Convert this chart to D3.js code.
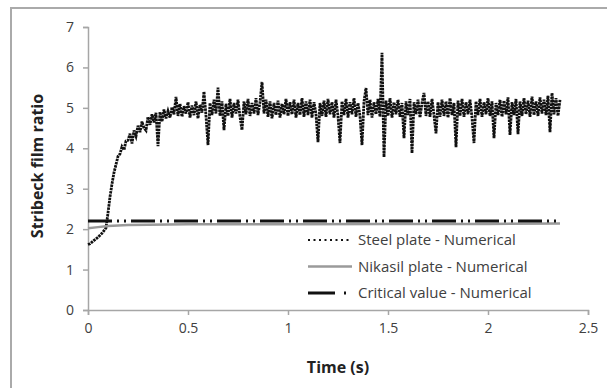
<!DOCTYPE html>
<html>
<head>
<meta charset="utf-8">
<script src="https://cdn.jsdelivr.net/npm/d3@7"></script>
<style>
  body { margin: 0; background: #fff; }
  svg { display: block; }
</style>
</head>
<body>
<div id="chart"></div>
<script>
// Stribeck film ratio vs time
const xTicks = [0, 0.5, 1, 1.5, 2, 2.5];
const yTicks = [0, 1, 2, 3, 4, 5, 6, 7];

// steel plate, sampled every 0.01 s from 0 to 2.36 s
const steelStep = 0.01;
const steelValues = [
  1.62, 1.64, 1.68, 1.72, 1.76, 1.80, 1.85, 1.90, 1.96, 2.03,
  2.40, 2.80, 3.12, 3.40, 3.60, 3.80, 3.86, 4.04, 3.96, 4.18,
  4.20, 4.36, 4.12, 4.44, 4.30, 4.56, 4.40, 4.66, 4.50, 4.44,
  4.78, 4.58, 4.84, 4.64, 4.88, 4.05, 4.90, 4.66, 4.96, 4.74,
  4.92, 4.76, 5.02, 4.84, 5.27, 4.80, 5.10, 4.78, 5.04, 4.86,
  5.14, 4.76, 5.06, 4.82, 5.16, 4.74, 5.08, 4.88, 5.40, 4.80,
  4.08, 5.12, 4.82, 5.20, 4.86, 5.50, 4.80, 5.16, 4.45, 5.10,
  4.80, 5.22, 4.76, 5.12, 4.86, 5.20, 4.78, 4.45, 5.16, 4.84,
  5.22, 4.80, 5.12, 4.86, 5.24, 4.82, 5.14, 5.64, 4.86, 5.20,
  4.78, 5.16, 4.74, 5.12, 4.82, 5.18, 4.76, 5.10, 4.84, 5.22,
  4.80, 5.14, 4.84, 5.20, 4.76, 5.12, 4.82, 5.24, 4.78, 5.16,
  4.82, 5.20, 4.76, 5.14, 4.84, 4.15, 5.12, 4.80, 5.18, 4.78,
  5.22, 4.84, 5.14, 4.76, 5.20, 4.80, 4.13, 5.16, 4.82, 5.22,
  4.76, 5.14, 4.84, 5.24, 4.78, 5.12, 4.80, 4.08, 5.16, 5.49,
  4.82, 5.20, 4.76, 5.14, 4.84, 5.22, 4.78, 6.36, 3.78, 5.18,
  4.80, 5.24, 4.76, 5.14, 4.84, 5.20, 4.78, 5.12, 4.25, 5.16,
  4.82, 5.22, 3.88, 5.14, 4.84, 5.20, 4.76, 5.12, 5.37, 4.80,
  5.16, 4.78, 5.22, 4.82, 4.37, 5.14, 4.78, 5.20, 4.80, 5.16,
  4.76, 5.24, 4.82, 5.12, 4.03, 5.18, 4.80, 5.22, 4.78, 5.14,
  4.84, 5.20, 4.76, 4.13, 5.16, 4.82, 5.22, 4.78, 5.14, 4.84,
  5.24, 4.80, 5.16, 4.25, 5.12, 4.82, 5.20, 4.78, 5.18, 4.84,
  5.26, 4.33, 5.14, 4.82, 5.22, 4.35, 5.16, 4.80, 5.24, 4.84,
  5.18, 4.78, 5.28, 4.82, 5.16, 4.80, 5.26, 4.86, 5.20, 4.82,
  5.30, 4.40, 5.37, 4.84, 5.24, 4.80, 5.20
];

const nikasilTime = [0, 0.05, 0.1, 0.2, 0.5, 1.0, 1.5, 2.0, 2.36];
const nikasilValues = [2.02, 2.05, 2.08, 2.10, 2.12, 2.12, 2.13, 2.13, 2.14];

const criticalTime = [0, 2.36];
const criticalValues = [2.2, 2.2];

const legendLabels = ["Steel plate - Numerical", "Nikasil plate - Numerical", "Critical value - Numerical"];

const width = 607, height = 388;
const font = "'Open Sans', sans-serif";

const svg = d3.select("#chart").append("svg")
    .attr("width", width)
    .attr("height", height);

svg.append("rect").attr("width", width).attr("height", height).attr("fill", "#fff");

// outer frame (only left and top edges are inside the picture)
svg.append("rect")
    .attr("x", 11).attr("y", 8)
    .attr("width", 620).attr("height", 400)
    .attr("fill", "none")
    .attr("stroke", "#aaa")
    .attr("stroke-width", 2);

const x = d3.scaleLinear().domain([0, 2.5]).range([88, 588]);
const y = d3.scaleLinear().domain([0, 7]).range([310, 27]);

const axisColor = "#a6a6a6";
const labelColor = "#404040";

const xAxis = svg.append("g")
    .attr("transform", `translate(0,${y(0)})`)
    .call(d3.axisBottom(x).tickValues(xTicks).tickSize(5).tickPadding(8)
        .tickFormat(d => d));
const yAxis = svg.append("g")
    .attr("transform", `translate(${x(0)},0)`)
    .call(d3.axisLeft(y).tickValues(yTicks).tickSize(5).tickPadding(9)
        .tickFormat(d => d));

[xAxis, yAxis].forEach(g => {
    g.select(".domain").attr("stroke", axisColor).attr("stroke-width", 1.5);
    g.selectAll(".tick line").attr("stroke", axisColor).attr("stroke-width", 1.5);
    g.selectAll(".tick text")
        .attr("fill", labelColor)
        .style("font-family", font)
        .style("font-size", "14px");
});

// series
const steelLine = d3.line()
    .x((d, i) => x(i * steelStep))
    .y(d => y(d));

svg.append("path")
    .datum(steelValues)
    .attr("d", steelLine)
    .attr("fill", "none")
    .attr("stroke", "#111")
    .attr("stroke-width", 2.8)
    .attr("stroke-dasharray", "2.5,0.8");

const pairLine = d3.line()
    .x(d => x(d[0]))
    .y(d => y(d[1]));

svg.append("path")
    .datum(nikasilTime.map((t, i) => [t, nikasilValues[i]]))
    .attr("d", pairLine)
    .attr("fill", "none")
    .attr("stroke", "#9a9a9a")
    .attr("stroke-width", 2.5);

svg.append("path")
    .datum(criticalTime.map((t, i) => [t, criticalValues[i]]))
    .attr("d", pairLine)
    .attr("fill", "none")
    .attr("stroke", "#111")
    .attr("stroke-width", 3)
    .attr("stroke-dasharray", "24,5,2,5,2,5");

// axis titles
svg.append("text")
    .attr("x", 338).attr("y", 373)
    .attr("text-anchor", "middle")
    .attr("fill", "#222")
    .style("font-family", font)
    .style("font-size", "16px")
    .style("font-weight", "bold")
    .text("Time (s)");

svg.append("text")
    .attr("transform", "translate(43,166) rotate(-90)")
    .attr("text-anchor", "middle")
    .attr("fill", "#222")
    .style("font-family", font)
    .style("font-size", "16px")
    .style("font-weight", "bold")
    .text("Stribeck film ratio");

// legend
const legend = svg.append("g").attr("transform", "translate(308,240)");
const rowGap = 26.5;

legend.append("line")
    .attr("x1", 0).attr("x2", 44).attr("y1", 0).attr("y2", 0)
    .attr("stroke", "#111").attr("stroke-width", 2)
    .attr("stroke-dasharray", "2,3.5");
legend.append("line")
    .attr("x1", 0).attr("x2", 44).attr("y1", rowGap).attr("y2", rowGap)
    .attr("stroke", "#9a9a9a").attr("stroke-width", 2.5);
legend.append("line")
    .attr("x1", 0).attr("x2", 44).attr("y1", rowGap * 2).attr("y2", rowGap * 2)
    .attr("stroke", "#111").attr("stroke-width", 3)
    .attr("stroke-dasharray", "27,9,2,20");

legend.selectAll("text.lab")
    .data(legendLabels)
    .enter()
    .append("text")
    .attr("class", "lab")
    .attr("x", 50)
    .attr("y", (d, i) => i * rowGap + 5)
    .attr("fill", labelColor)
    .style("font-family", font)
    .style("font-size", "15px")
    .text(d => d);
</script>
</body>
</html>
